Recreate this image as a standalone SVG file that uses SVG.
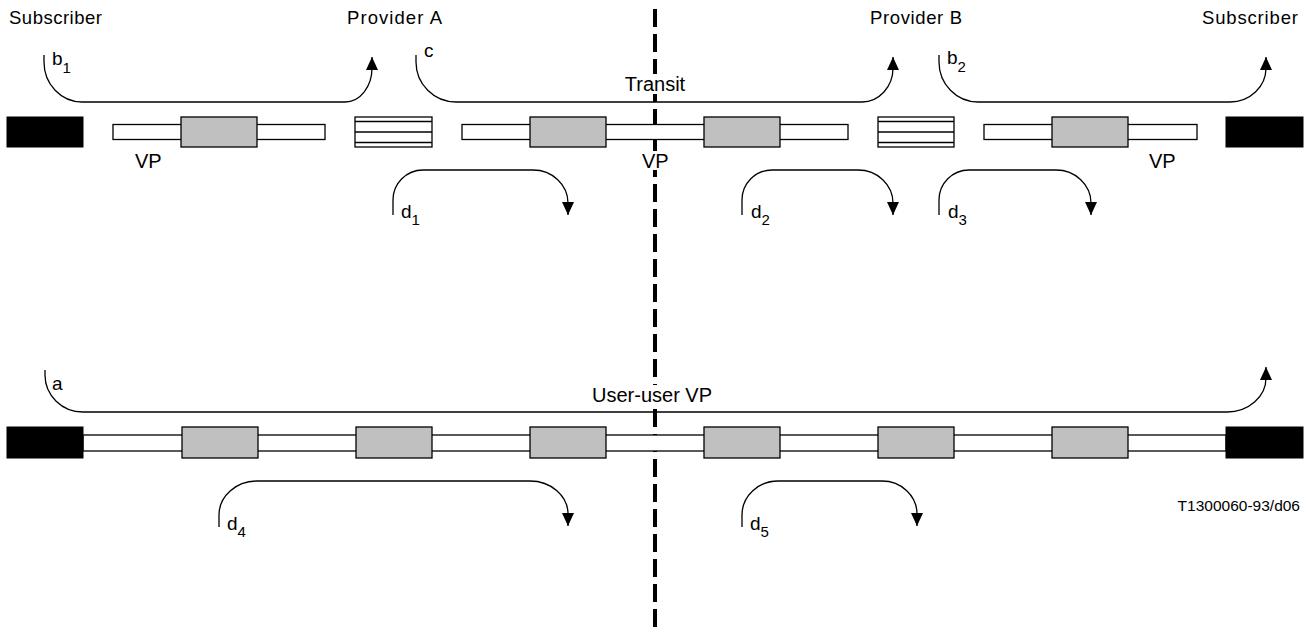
<svg xmlns="http://www.w3.org/2000/svg" width="1316" height="628" viewBox="0 0 1316 628">
  <defs>
    <marker id="arrow" viewBox="0 0 13 12" refX="13" refY="6" markerWidth="13" markerHeight="12" markerUnits="userSpaceOnUse" orient="auto">
      <path d="M0,0 L13,6 L0,12 z" fill="#000"/>
    </marker>
  </defs>
  <style>
    text { font-family: "Liberation Sans", Arial, sans-serif; fill: #000; }
    .hdr { font-size: 18.5px; }
    .lbl { font-size: 20px; }
    .ref { font-size: 19px; }
    .sub { font-size: 15px; }
    .term { fill: #000; stroke: #000; stroke-width: 1; }
    .pipe { fill: #fff; stroke: #000; stroke-width: 1.3; }
    .node { fill: #c0c0c0; stroke: #000; stroke-width: 1.3; }
    .xc { fill: #fff; stroke: #000; stroke-width: 1.3; }
    .flow { fill: none; stroke: #000; stroke-width: 1.3; marker-end: url(#arrow); }
    .bg { fill: #fff; }
  </style>

  <!-- domain boundary between the two providers -->
  <line x1="655" y1="9" x2="655" y2="628" stroke="#000" stroke-width="4" stroke-dasharray="18 7"/>

  <!-- headings -->
  <g id="headings">
    <text class="hdr" x="9" y="24" textLength="93" lengthAdjust="spacing">Subscriber</text>
    <text class="hdr" x="347" y="24" textLength="95" lengthAdjust="spacing">Provider A</text>
    <text class="hdr" x="870" y="24" textLength="92" lengthAdjust="spacing">Provider B</text>
    <text class="hdr" x="1202" y="24" textLength="96" lengthAdjust="spacing">Subscriber</text>
  </g>

  <!-- upper row: separate VP segments -->
  <g id="term-left-top"><rect class="term" x="7" y="117" width="76" height="30"/></g>
  <g id="vp-seg-1">
    <rect class="pipe" x="113" y="124.5" width="212" height="15"/>
    <rect class="node" x="181" y="117" width="76" height="30"/>
  </g>
  <g id="xconnect-a">
    <rect class="xc" x="355" y="117" width="77" height="30"/>
    <line x1="355" y1="121.5" x2="432" y2="121.5" stroke="#000" stroke-width="1.3"/>
    <line x1="355" y1="132" x2="432" y2="132" stroke="#000" stroke-width="1.3"/>
    <line x1="355" y1="142.5" x2="432" y2="142.5" stroke="#000" stroke-width="1.3"/>
  </g>
  <g id="vp-seg-2">
    <rect class="pipe" x="462" y="124.5" width="386" height="15"/>
    <rect class="node" x="530" y="117" width="76" height="30"/>
    <rect class="node" x="704" y="117" width="76" height="30"/>
  </g>
  <g id="xconnect-b">
    <rect class="xc" x="878" y="117" width="76" height="30"/>
    <line x1="878" y1="121.5" x2="954" y2="121.5" stroke="#000" stroke-width="1.3"/>
    <line x1="878" y1="132" x2="954" y2="132" stroke="#000" stroke-width="1.3"/>
    <line x1="878" y1="142.5" x2="954" y2="142.5" stroke="#000" stroke-width="1.3"/>
  </g>
  <g id="vp-seg-3">
    <rect class="pipe" x="984" y="124.5" width="213" height="15"/>
    <rect class="node" x="1052" y="117" width="76" height="30"/>
  </g>
  <g id="term-right-top"><rect class="term" x="1226" y="117" width="77" height="30"/></g>

  <!-- lower row: end-to-end VP -->
  <g id="vp-user-user">
    <rect class="pipe" x="83" y="435" width="1143" height="16"/>
  </g>
  <g id="term-left-bottom"><rect class="term" x="7" y="427" width="76" height="31"/></g>
  <g id="node-b1"><rect class="node" x="182" y="427" width="76" height="31"/></g>
  <g id="node-b2"><rect class="node" x="356" y="427" width="76" height="31"/></g>
  <g id="node-b3"><rect class="node" x="530" y="427" width="76" height="31"/></g>
  <g id="node-b4"><rect class="node" x="704" y="427" width="76" height="31"/></g>
  <g id="node-b5"><rect class="node" x="878" y="427" width="76" height="31"/></g>
  <g id="node-b6"><rect class="node" x="1052" y="427" width="76" height="31"/></g>
  <g id="term-right-bottom"><rect class="term" x="1226" y="427" width="77" height="31"/></g>

  <!-- flows -->
  <g id="connectors">
    <path class="flow" d="M44,55 L44,62 A38,40 0 0 0 82,102 L345,102 A27,34 0 0 0 372,68 L372,57"/>
    <path class="flow" d="M416,55 L416,62 A40,40 0 0 0 456,102 L862,102 A31,34 0 0 0 893,68 L893,57"/>
    <path class="flow" d="M939,55 L939,62 A39,40 0 0 0 978,102 L1230,102 A36,34 0 0 0 1266,68 L1266,57"/>
    <path class="flow" d="M393,215 L393,200 A30,30 0 0 1 423,170 L533,170 A35,33 0 0 1 568,203 L568,215"/>
    <path class="flow" d="M742,215 L742,200 A30,30 0 0 1 772,170 L858,170 A35,33 0 0 1 893,203 L893,215"/>
    <path class="flow" d="M939,215 L939,200 A30,30 0 0 1 969,170 L1056,170 A35,33 0 0 1 1091,203 L1091,215"/>
    <path class="flow" d="M45,370 L45,375 A38,37 0 0 0 83,412 L1227,412 A39,34 0 0 0 1266,378 L1266,367"/>
    <path class="flow" d="M219,527 L219,515 A38,34 0 0 1 257,481 L530,481 A38,33 0 0 1 568,514 L568,526"/>
    <path class="flow" d="M742,527 L742,515 A36,34 0 0 1 778,481 L882,481 A35,33 0 0 1 917,514 L917,526"/>
  </g>

  <!-- labels -->
  <g id="labels">
    <text class="ref" x="52" y="65">b<tspan class="sub" dy="8">1</tspan></text>
    <text class="ref" x="424" y="57">c</text>
    <text class="ref" x="947" y="64">b<tspan class="sub" dy="8">2</tspan></text>
    <rect class="bg" x="621" y="74" width="68" height="20"/>
    <text class="lbl" x="655" y="91" text-anchor="middle">Transit</text>
    <text class="lbl" x="135" y="168">VP</text>
    <rect class="bg" x="640" y="151" width="30" height="19"/>
    <text class="lbl" x="642" y="168">VP</text>
    <text class="lbl" x="1149" y="168">VP</text>
    <text class="ref" x="401" y="218">d<tspan class="sub" dy="7">1</tspan></text>
    <text class="ref" x="751" y="218">d<tspan class="sub" dy="7">2</tspan></text>
    <text class="ref" x="948" y="218">d<tspan class="sub" dy="7">3</tspan></text>
    <text class="ref" x="52" y="390">a</text>
    <rect class="bg" x="590" y="385" width="129" height="20"/>
    <text class="lbl" x="592" y="402">User-user VP</text>
    <text class="ref" x="227" y="530">d<tspan class="sub" dy="7">4</tspan></text>
    <text class="ref" x="750" y="530">d<tspan class="sub" dy="7">5</tspan></text>
    <text x="1300" y="511" font-size="15.5" text-anchor="end">T1300060-93/d06</text>
  </g>
</svg>
